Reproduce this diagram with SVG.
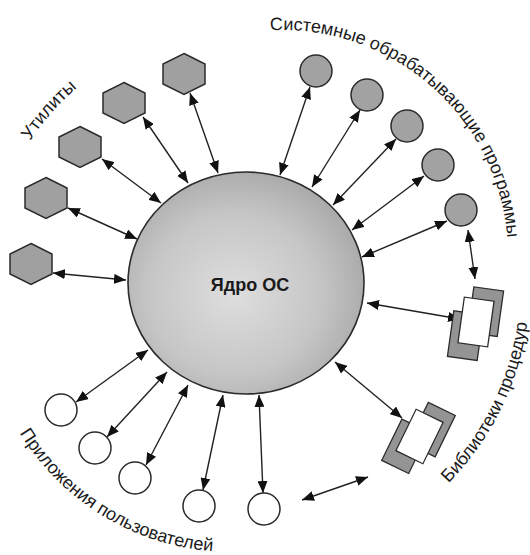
<svg xmlns="http://www.w3.org/2000/svg" xmlns:xlink="http://www.w3.org/1999/xlink" width="530" height="555" viewBox="0 0 530 555">
  <style>
    .hex { fill: #a0a0a0; stroke: #2b2b2b; stroke-width: 1.5; }
    .sys { fill: #a2a2a2; stroke: #2b2b2b; stroke-width: 1.5; }
    .app { fill: #ffffff; stroke: #2b2b2b; stroke-width: 1.5; }
    .lib-back { fill: #949494; stroke: #2b2b2b; stroke-width: 1.3; }
    .lib-front { fill: #ffffff; stroke: #2b2b2b; stroke-width: 1.3; }
    .link { stroke: #222; stroke-width: 1.4; fill: none; marker-start: url(#head); marker-end: url(#head); }
    .label { font-family: "Liberation Sans", Arial, sans-serif; font-size: 18px; fill: #1a1a1a; }
    .core-label { font-family: "Liberation Sans", Arial, sans-serif; font-size: 18px; font-weight: bold; fill: #1a1a1a; }
  </style>
  <defs>
    <radialGradient id="coreFill" cx="0.45" cy="0.55" r="0.6">
      <stop offset="0" stop-color="#dedede"/>
      <stop offset="0.6" stop-color="#c6c6c6"/>
      <stop offset="1" stop-color="#a6a6a6"/>
    </radialGradient>
    <marker id="head" viewBox="0 0 12 10" refX="12" refY="5" markerWidth="12" markerHeight="10" markerUnits="userSpaceOnUse" orient="auto-start-reverse">
      <path d="M0,0 L12,5 L0,10 z" fill="#111"/>
    </marker>
    <polygon id="hexShape" points="0,-20.5 21,-10 21,10 0,20.5 -21,10 -21,-10"/>
    <!-- arcs that carry the curved labels -->
    <path id="arcUtil" d="M30,141 A259,259 0 0,1 116.5,59.7"/>
    <path id="arcSys" d="M270.2,30.3 A226,226 0 0,1 507.1,275.7"/>
    <path id="arcLib" d="M448.6,483.1 A284,284 0 0,0 530,284"/>
    <path id="arcApp" d="M19.7,433.1 A249,249 0 0,0 253.7,551.1"/>
  </defs>

  <rect width="530" height="555" fill="#ffffff"/>

  <!-- connectors -->
  <g id="connectors">
    <line class="link" x1="53" y1="273" x2="126" y2="280"/>
    <line class="link" x1="68" y1="208" x2="137" y2="239"/>
    <line class="link" x1="102" y1="159" x2="161" y2="203"/>
    <line class="link" x1="143" y1="117" x2="188" y2="183"/>
    <line class="link" x1="190" y1="93" x2="218" y2="173"/>

    <line class="link" x1="310" y1="87" x2="280" y2="175"/>
    <line class="link" x1="360" y1="110" x2="312" y2="187"/>
    <line class="link" x1="396" y1="139" x2="333" y2="205"/>
    <line class="link" x1="424" y1="176" x2="352" y2="230"/>
    <line class="link" x1="447" y1="221" x2="362" y2="257"/>
    <line class="link" x1="468" y1="230" x2="475" y2="279"/>

    <line class="link" x1="367" y1="303" x2="460" y2="319"/>
    <line class="link" x1="335" y1="362" x2="402" y2="418"/>

    <line class="link" x1="148" y1="350" x2="76" y2="402"/>
    <line class="link" x1="167" y1="372" x2="107" y2="437"/>
    <line class="link" x1="188" y1="385" x2="146" y2="465"/>
    <line class="link" x1="223" y1="395" x2="203" y2="490"/>
    <line class="link" x1="259" y1="395" x2="263" y2="493"/>
    <line class="link" x1="302" y1="500" x2="368" y2="477"/>
  </g>

  <!-- kernel -->
  <g id="core">
    <ellipse cx="246" cy="283" rx="118" ry="111" fill="url(#coreFill)" stroke="#2b2b2b" stroke-width="1.6"/>
    <text class="core-label" x="250" y="291" text-anchor="middle">Ядро ОС</text>
  </g>

  <!-- utilities -->
  <g id="util-1"><use href="#hexShape" class="hex" x="31" y="264"/></g>
  <g id="util-2"><use href="#hexShape" class="hex" x="46" y="198"/></g>
  <g id="util-3"><use href="#hexShape" class="hex" x="80" y="147"/></g>
  <g id="util-4"><use href="#hexShape" class="hex" x="124" y="103"/></g>
  <g id="util-5"><use href="#hexShape" class="hex" x="184" y="74"/></g>

  <!-- system programs -->
  <g id="sys-1"><circle class="sys" cx="316" cy="71" r="16"/></g>
  <g id="sys-2"><circle class="sys" cx="367" cy="95" r="16"/></g>
  <g id="sys-3"><circle class="sys" cx="407" cy="126" r="16"/></g>
  <g id="sys-4"><circle class="sys" cx="438" cy="165" r="16"/></g>
  <g id="sys-5"><circle class="sys" cx="461" cy="210" r="16"/></g>

  <!-- procedure libraries -->
  <g id="lib-1" transform="translate(476,322) rotate(8)">
    <rect class="lib-back" x="-7" y="-34.5" width="30" height="46"/>
    <rect class="lib-back" x="-23.5" y="-8" width="30" height="46"/>
    <rect class="lib-front" x="-15" y="-23" width="30" height="46"/>
  </g>
  <g id="lib-2" transform="translate(419.5,436.5) rotate(26)">
    <rect class="lib-back" x="-7" y="-34.5" width="30" height="46"/>
    <rect class="lib-back" x="-23.5" y="-8" width="30" height="46"/>
    <rect class="lib-front" x="-15" y="-23" width="30" height="46"/>
  </g>

  <!-- user applications -->
  <g id="app-1"><circle class="app" cx="61" cy="410" r="16"/></g>
  <g id="app-2"><circle class="app" cx="95" cy="448" r="16"/></g>
  <g id="app-3"><circle class="app" cx="135" cy="478" r="16"/></g>
  <g id="app-4"><circle class="app" cx="199" cy="506" r="16"/></g>
  <g id="app-5"><circle class="app" cx="264" cy="509" r="16"/></g>

  <!-- group labels -->
  <g id="labels">
    <text class="label"><textPath href="#arcUtil">Утилиты</textPath></text>
    <text class="label"><textPath href="#arcSys">Системные обрабатывающие программы</textPath></text>
    <text class="label"><textPath href="#arcLib">Библиотеки процедур</textPath></text>
    <text class="label"><textPath href="#arcApp">Приложения пользователей</textPath></text>
  </g>
</svg>
